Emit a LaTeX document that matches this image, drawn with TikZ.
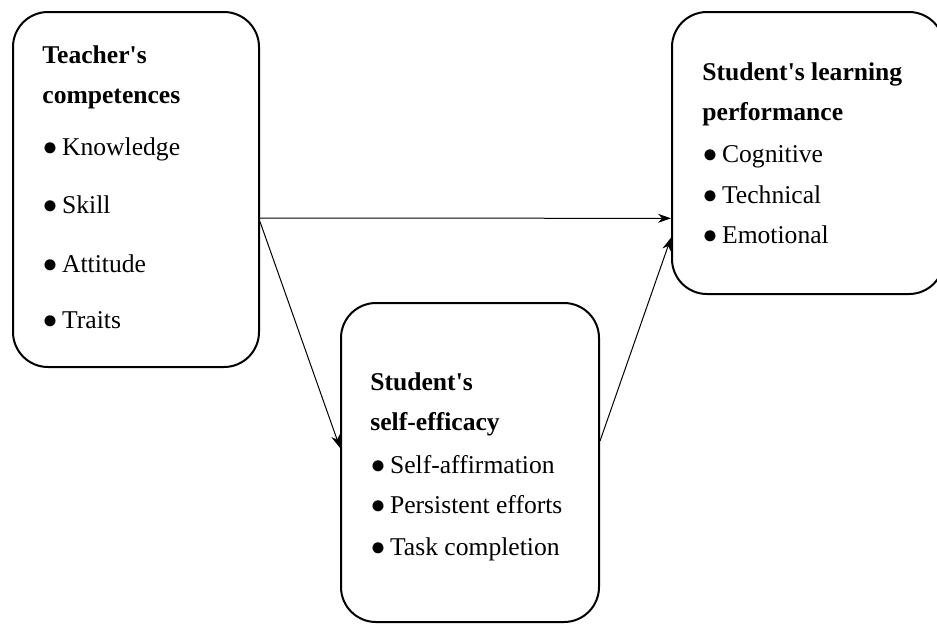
\documentclass[tikz,border=0pt]{standalone}
\usepackage{fontspec}
\setmainfont{Liberation Serif}[Ligatures=TeXOff]
\usetikzlibrary{arrows.meta,calc}
\begin{document}
\begin{tikzpicture}[x=0.5pt,y=-0.5pt,
  box/.style={draw,line width=1pt,rounded corners=17.5pt,inner sep=0pt,anchor=north west},
  lbl/.style={anchor=base west,inner sep=0pt,font=\fontsize{12.8}{15}\selectfont},
  ttl/.style={anchor=base west,inner sep=0pt,font=\fontsize{12.8}{15}\selectfont\bfseries},
  conn/.style={line width=0.5pt,-{Stealth[length=6.5pt,width=4.5pt]}}]
\fill[white] (0,0) rectangle (937,623);
\useasboundingbox (0,0) rectangle (937,623);

% boxes
\node[box,minimum width=123pt,minimum height=177.5pt] (A) at (12,11) {};
\node[box,minimum width=136pt,minimum height=141pt] (B) at (671,11) {};
\node[box,minimum width=129pt,minimum height=159.5pt] (C) at (340,302) {};

% teacher's competences
\node[ttl] (a1) at (42,63) {Teacher's};
\node[ttl] (a2) at (42,103) {competences};
\node[lbl] (a3) at (42,155) {●\,Knowledge};
\node[lbl] (a4) at (42,213) {●\,Skill};
\node[lbl] (a5) at (42,272) {●\,Attitude};
\node[lbl] (a6) at (42,328) {●\,Traits};

% learning performance
\node[ttl] (b1) at (702,80) {Student's learning};
\node[ttl] (b2) at (702,120) {performance};
\node[lbl] (b3) at (702,162) {●\,Cognitive};
\node[lbl] (b4) at (702,203) {●\,Technical};
\node[lbl] (b5) at (702,243) {●\,Emotional};

% self-efficacy
\node[ttl] (c1) at (370,390) {Student's};
\node[ttl] (c2) at (370,430) {self-efficacy};
\node[lbl] (c3) at (370,473) {●\,Self-affirmation};
\node[lbl] (c4) at (370,513) {●\,Persistent efforts};
\node[lbl] (c5) at (370,555) {●\,Task completion};

% connectors
\coordinate (pA1) at ($(A.north east)!0.58!(A.south east)$);
\coordinate (pA2) at ($(A.north east)!0.59!(A.south east)$);
\coordinate (pB1) at ($(B.north west)!0.73!(B.south west)$);
\coordinate (pB2) at ($(B.north west)!0.798!(B.south west)$);
\coordinate (pC1) at ($(C.north west)!0.4545!(C.south west)$);
\coordinate (pC2) at ($(C.north east)!0.433!(C.south east)$);
\draw[conn] (pA1) -- (pB1);
\draw[conn] (pA2) -- (pC1);
\draw[conn] (pC2) -- (pB2);
\end{tikzpicture}
\end{document}
